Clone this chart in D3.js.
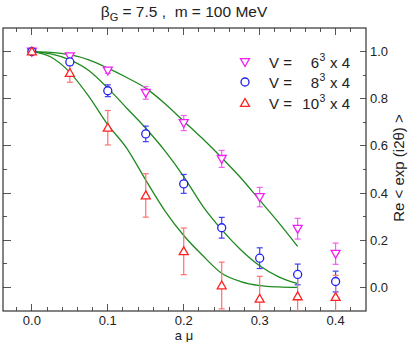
<!DOCTYPE html>
<html><head><meta charset="utf-8">
<script src="https://cdn.jsdelivr.net/npm/d3@7"></script>
<style>
html,body{margin:0;padding:0;background:#fff;}
svg{display:block;font-family:"Liberation Sans",Arial,Helvetica,sans-serif;}
text{white-space:pre;}
</style></head>
<body>
<svg id="chart" width="409" height="342"></svg>
<script>
// ---- data ----
const xValues = [0, 0.05, 0.1, 0.15, 0.2, 0.25, 0.3, 0.35, 0.4];

const v6Values = [1.0, 0.980, 0.920, 0.825, 0.697, 0.545, 0.383, 0.249, 0.143];
const v6Errors = [0.0, 0.010, 0.012, 0.027, 0.032, 0.036, 0.041, 0.044, 0.045];

const v8Values = [1.0, 0.956, 0.834, 0.651, 0.439, 0.253, 0.124, 0.055, 0.025];
const v8Errors = [0.0, 0.015, 0.025, 0.033, 0.040, 0.044, 0.044, 0.044, 0.044];

const v10Values = [1.0, 0.909, 0.677, 0.390, 0.153, 0.008, -0.048, -0.038, -0.041];
const v10Errors = [0.0, 0.039, 0.073, 0.092, 0.099, 0.099, 0.095, 0.100, 0.092];

// fitted curves
const fitX = [0, 0.025, 0.05, 0.075, 0.1, 0.125, 0.15, 0.175, 0.2, 0.225, 0.25, 0.275, 0.3, 0.325, 0.35];
const fit6 = [1.0, 0.997, 0.987, 0.965, 0.930, 0.890, 0.845, 0.780, 0.705, 0.630, 0.550, 0.465, 0.370, 0.275, 0.174];
const fit8 = [1.0, 0.990, 0.965, 0.920, 0.845, 0.760, 0.675, 0.580, 0.470, 0.345, 0.245, 0.160, 0.092, 0.045, 0.016];
const fit10 = [1.0, 0.977, 0.912, 0.810, 0.690, 0.590, 0.455, 0.326, 0.220, 0.135, 0.060, 0.025, 0.008, 0.002, 0.0];

const xTickLabels = ["0.0", "0.1", "0.2", "0.3", "0.4"];
const yTickLabels = ["0.0", "0.2", "0.4", "0.6", "0.8", "1.0"];
const legendNumbers = ["6", "8", "10"];

// ---- drawing ----
const svg = d3.select("#chart");
const L = 3, R = 366, T = 28, B = 311;
const x = d3.scaleLinear().domain([-0.038, 0.44]).range([L, R]);
const y = d3.scaleLinear().domain([-0.1, 1.1]).range([B, T]);

const tickCol = "#555";
const g = svg.append("g");

// ticks
const xMinor = d3.range(-0.02, 0.43, 0.02).map(v => +v.toFixed(3));
const xMajor = xTickLabels.map(Number);
const yMinor = d3.range(0, 1.01, 0.1).map(v => +v.toFixed(2));
const yMajor = yTickLabels.map(Number);
const isMaj = (arr, v) => arr.some(m => Math.abs(m - v) < 1e-6);

xMinor.forEach(v => {
  const len = isMaj(xMajor, v) ? 7 : 4;
  g.append("line").attr("x1", x(v)).attr("x2", x(v)).attr("y1", T).attr("y2", T + len)
    .attr("stroke", tickCol).attr("stroke-width", 1).attr("shape-rendering", "crispEdges");
  g.append("line").attr("x1", x(v)).attr("x2", x(v)).attr("y1", B).attr("y2", B - len)
    .attr("stroke", tickCol).attr("stroke-width", 1).attr("shape-rendering", "crispEdges");
});
yMinor.forEach(v => {
  const len = isMaj(yMajor, v) ? 8 : 4;
  g.append("line").attr("x1", L).attr("x2", L + len).attr("y1", y(v)).attr("y2", y(v))
    .attr("stroke", tickCol).attr("stroke-width", 1).attr("shape-rendering", "crispEdges");
  const len2 = isMaj(yMajor, v) ? 6 : 3;
  g.append("line").attr("x1", R).attr("x2", R - len2).attr("y1", y(v)).attr("y2", y(v))
    .attr("stroke", tickCol).attr("stroke-width", 1).attr("shape-rendering", "crispEdges");
});

// frame
svg.append("rect").attr("x", L).attr("y", T).attr("width", R - L).attr("height", B - T)
  .attr("fill", "none").attr("stroke", "#333").attr("stroke-width", 1.2);

// tick labels
xTickLabels.forEach(t => {
  svg.append("text").attr("x", x(+t)).attr("y", 325).attr("text-anchor", "middle")
    .attr("font-size", 13).attr("fill", "#222").text(t);
});
yTickLabels.forEach(t => {
  svg.append("text").attr("x", 370).attr("y", y(+t) + 4.5).attr("text-anchor", "start")
    .attr("font-size", 13).attr("fill", "#222").text(t);
});

// axis titles
svg.append("text").attr("x", 184).attr("y", 339.5).attr("text-anchor", "middle")
  .attr("font-size", 13).attr("fill", "#222").text("a μ");
svg.append("text").attr("transform", "translate(404,168) rotate(-90)").attr("text-anchor", "middle")
  .attr("font-size", 15).attr("fill", "#222").text("Re < exp (i2θ) >");

// title
const title = svg.append("text").attr("x", 184).attr("y", 17).attr("text-anchor", "middle")
  .attr("font-size", 15.5).attr("fill", "#222");
title.append("tspan").text("β");
title.append("tspan").attr("dy", 4).attr("font-size", 11).text("G");
title.append("tspan").attr("dy", -4).text(" = 7.5 ,  m = 100 MeV");

// clip for data
svg.append("clipPath").attr("id", "clip").append("rect")
  .attr("x", L).attr("y", T).attr("width", R - L).attr("height", B - T);
const plot = svg.append("g").attr("clip-path", "url(#clip)");

// fits
const line = d3.line().x(d => x(d[0])).y(d => y(d[1])).curve(d3.curveMonotoneX);
[fit6, fit8, fit10].forEach(f => {
  plot.append("path").datum(fitX.map((xv, i) => [xv, f[i]]))
    .attr("d", line).attr("fill", "none").attr("stroke", "#1f8a1f").attr("stroke-width", 1.3);
});

const series = [
  {vals: v6Values, errs: v6Errors, col: "#f020f0", ecol: "#f060f0", sym: "down"},
  {vals: v8Values, errs: v8Errors, col: "#2020f0", ecol: "#4040f0", sym: "circle"},
  {vals: v10Values, errs: v10Errors, col: "#ff2020", ecol: "#ff7070", sym: "up"}
];

function marker(sel, sym, col) {
  if (sym === "circle") {
    sel.append("circle").attr("r", 4).attr("fill", "#fff").attr("stroke", col).attr("stroke-width", 1.3);
  } else {
    const s = 4.5;
    const pts = sym === "up"
      ? [[0, -s], [s, s * 0.75], [-s, s * 0.75]]
      : [[0, s], [s, -s * 0.75], [-s, -s * 0.75]];
    sel.append("path").attr("d", "M" + pts.map(p => p.join(",")).join("L") + "Z")
      .attr("fill", "#fff").attr("stroke", col).attr("stroke-width", 1.3);
  }
}

series.forEach(s => {
  xValues.forEach((xv, i) => {
    const e = s.errs[i];
    if (e > 0) {
      const cx = x(xv), y1 = y(s.vals[i] + e), y2 = y(s.vals[i] - e);
      plot.append("line").attr("x1", cx).attr("x2", cx).attr("y1", y1).attr("y2", y2)
        .attr("stroke", s.ecol).attr("stroke-width", 1.2);
      [y1, y2].forEach(yy => plot.append("line").attr("x1", cx - 3).attr("x2", cx + 3)
        .attr("y1", yy).attr("y2", yy).attr("stroke", s.ecol).attr("stroke-width", 1.2));
    }
  });
});
series.forEach(s => {
  xValues.forEach((xv, i) => {
    const m = plot.append("g").attr("transform", `translate(${x(xv)},${y(s.vals[i])})`);
    marker(m, s.sym, s.col);
  });
});

// legend
const legY = [62, 82, 103];
series.forEach((s, i) => {
  const m = svg.append("g").attr("transform", `translate(245,${legY[i]})`);
  marker(m, s.sym, s.col);
  svg.append("text").attr("font-size", 15).attr("fill", "#222")
    .attr("x", 269).attr("y", legY[i] + 6).text("V =");
  svg.append("text").attr("font-size", 15).attr("fill", "#222").attr("text-anchor", "end")
    .attr("x", 319).attr("y", legY[i] + 6).text(legendNumbers[i]);
  svg.append("text").attr("font-size", 10.5).attr("fill", "#222")
    .attr("x", 319.5).attr("y", legY[i] - 1).text("3");
  svg.append("text").attr("font-size", 15).attr("fill", "#222")
    .attr("x", 330).attr("y", legY[i] + 6).text("x 4");
});
</script>
</body></html>
